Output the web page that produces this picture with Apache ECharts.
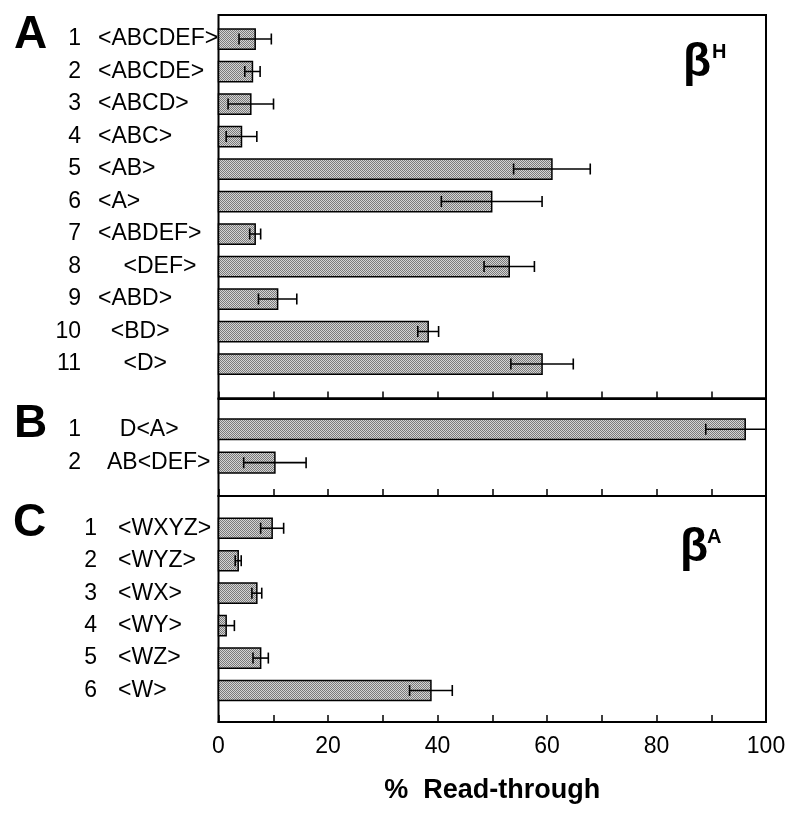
<!DOCTYPE html>
<html>
<head>
<meta charset="utf-8">
<script src="https://cdn.jsdelivr.net/npm/echarts@6/dist/echarts.min.js"></script>
<style>html,body{margin:0;padding:0;background:#fff}#c{width:800px;height:818px}</style>
</head>
<body>
<div id="c"></div>
<script>
// ---- data ----
const numbersA = ['1','2','3','4','5','6','7','8','9','10','11'];
const namesA = ['<ABCDEF>','<ABCDE>','<ABCD>','<ABC>','<AB>','<A>','<ABDEF>','    <DEF>','<ABD>','  <BD>','    <D>'];
const valuesA = [6.7, 6.2, 5.9, 4.2, 60.9, 49.9, 6.7, 53.1, 10.8, 38.3, 59.1];
const errorsA = [2.95, 1.4, 4.15, 2.8, 7.0, 9.2, 1.0, 4.6, 3.5, 1.9, 5.7];

const numbersB = ['1','2'];
const namesB = ['  D<A>','AB<DEF>'];
const valuesB = [96.2, 10.3];
const errorsB = [7.2, 5.7];

const numbersC = ['1','2','3','4','5','6'];
const namesC = ['<WXYZ>','<WYZ>','<WX>','<WY>','<WZ>','<W>'];
const valuesC = [9.8, 3.6, 7.0, 1.4, 7.7, 38.8];
const errorsC = [2.1, 0.55, 0.9, 1.5, 1.4, 3.9];

const xTicks = [0, 20, 40, 60, 80, 100];
const xTitle = '%  Read-through';

// ---- rendering ----
const FONT = '"Liberation Sans", Arial, Helvetica, sans-serif';
const pc = document.createElement('canvas');
pc.width = 2; pc.height = 2;
const pctx = pc.getContext('2d');
pctx.fillStyle = '#d4d4d4'; pctx.fillRect(0,0,2,2);
pctx.fillStyle = '#7a7a7a'; pctx.fillRect(0,0,1,1); pctx.fillRect(1,1,1,1);
const pattern = {image: pc, repeat: 'repeat'};

const chart = echarts.init(document.getElementById('c'), null, {renderer: 'canvas'});

const L = 218.5, W = 547.5;
const panels = [
  {top: 15, height: 383.5, min: 0.26, max: 12.06, nums: numbersA, names: namesA, vals: valuesA, errs: errorsA, numRight: 81, nameLeft: 98},
  {top: 398.5, height: 97.5, min: 0.078, max: 3.0, nums: numbersB, names: namesB, vals: valuesB, errs: errorsB, numRight: 81, nameLeft: 107},
  {top: 496, height: 226, min: 0.006, max: 6.97, nums: numbersC, names: namesC, vals: valuesC, errs: errorsC, numRight: 97, nameLeft: 118}
];

const grids = [], xAxes = [], yAxes = [], series = [];
panels.forEach((p, gi) => {
  const last = gi === panels.length - 1;
  grids.push({left: L, top: p.top, width: W, height: p.height, show: true, borderColor: '#000', borderWidth: 2, backgroundColor: 'transparent'});
  xAxes.push({
    type: 'value', gridIndex: gi, min: 0, max: 100, interval: 10, position: 'bottom',
    axisLine: {show: true, lineStyle: {color: '#000', width: 2}},
    axisTick: {show: true, inside: true, length: 7, lineStyle: {color: '#000', width: 1.5}},
    splitLine: {show: false},
    axisLabel: {show: last, interval: 0, margin: 13, color: '#000', fontFamily: FONT, fontSize: 23,
      formatter: v => xTicks.indexOf(v) >= 0 ? String(v) : ''},
    name: last ? xTitle : '', nameLocation: 'middle', nameGap: 55,
    nameTextStyle: {color: '#000', fontFamily: FONT, fontSize: 27, fontWeight: 'bold'}
  });
  yAxes.push({type: 'value', gridIndex: gi, inverse: true, min: p.min, max: p.max, show: false});
  const data = p.vals.map((v, i) => [v, i + 1, p.errs[i]]);
  series.push({
    type: 'custom', xAxisIndex: gi, yAxisIndex: gi, clip: false, data: data,
    renderItem: (params, api) => {
      const v = api.value(0), pos = api.value(1);
      const s = api.coord([0, pos]), e = api.coord([v, pos]);
      const h = api.size([0, 1])[1] * 0.62;
      const i = params.dataIndex;
      return {type: 'group', children: [
        {type: 'rect', shape: {x: s[0], y: s[1] - h / 2, width: e[0] - s[0], height: h},
          style: {fill: pattern, stroke: '#000', lineWidth: 1.5}},
        {type: 'text', x: p.numRight, y: s[1],
          style: {text: p.nums[i], font: '23px ' + FONT, fill: '#000', align: 'right', verticalAlign: 'middle', textAlign: 'right', textVerticalAlign: 'middle'}},
        {type: 'text', x: p.nameLeft, y: s[1],
          style: {text: p.names[i], font: '23px ' + FONT, fill: '#000', align: 'left', verticalAlign: 'middle', textAlign: 'left', textVerticalAlign: 'middle'}}
      ]};
    }
  });
  series.push({
    type: 'custom', xAxisIndex: gi, yAxisIndex: gi, clip: true, data: data, z: 3,
    renderItem: (params, api) => {
      const v = api.value(0), pos = api.value(1), er = api.value(2);
      const a = api.coord([v - er, pos]), b = api.coord([v + er, pos]);
      const c = 5.5;
      const st = {stroke: '#000', lineWidth: 1.6};
      return {type: 'group', children: [
        {type: 'line', shape: {x1: a[0], y1: a[1], x2: b[0], y2: b[1]}, style: st},
        {type: 'line', shape: {x1: a[0], y1: a[1] - c, x2: a[0], y2: a[1] + c}, style: st},
        {type: 'line', shape: {x1: b[0], y1: b[1] - c, x2: b[0], y2: b[1] + c}, style: st}
      ]};
    }
  });
});

const letterStyle = (t) => ({text: t, font: 'bold 46px ' + FONT, fill: '#000', align: 'left', verticalAlign: 'middle', textAlign: 'left', textVerticalAlign: 'middle'});
const graphic = [
  {type: 'text', x: 14, y: 35, style: letterStyle('A')},
  {type: 'text', x: 14, y: 424, style: letterStyle('B')},
  {type: 'text', x: 13, y: 523, style: letterStyle('C')},
  {type: 'text', x: 683, y: 63, style: {text: 'β', font: 'bold 46px ' + FONT, fill: '#000', align: 'left', verticalAlign: 'middle'}},
  {type: 'text', x: 712, y: 52, style: {text: 'H', font: 'bold 20px ' + FONT, fill: '#000', align: 'left', verticalAlign: 'middle'}},
  {type: 'text', x: 680, y: 548, style: {text: 'β', font: 'bold 46px ' + FONT, fill: '#000', align: 'left', verticalAlign: 'middle'}},
  {type: 'text', x: 707, y: 537, style: {text: 'A', font: 'bold 20px ' + FONT, fill: '#000', align: 'left', verticalAlign: 'middle'}}
];

chart.setOption({
  animation: false,
  backgroundColor: '#fff',
  grid: grids, xAxis: xAxes, yAxis: yAxes, series: series, graphic: graphic
});
</script>
</body>
</html>
